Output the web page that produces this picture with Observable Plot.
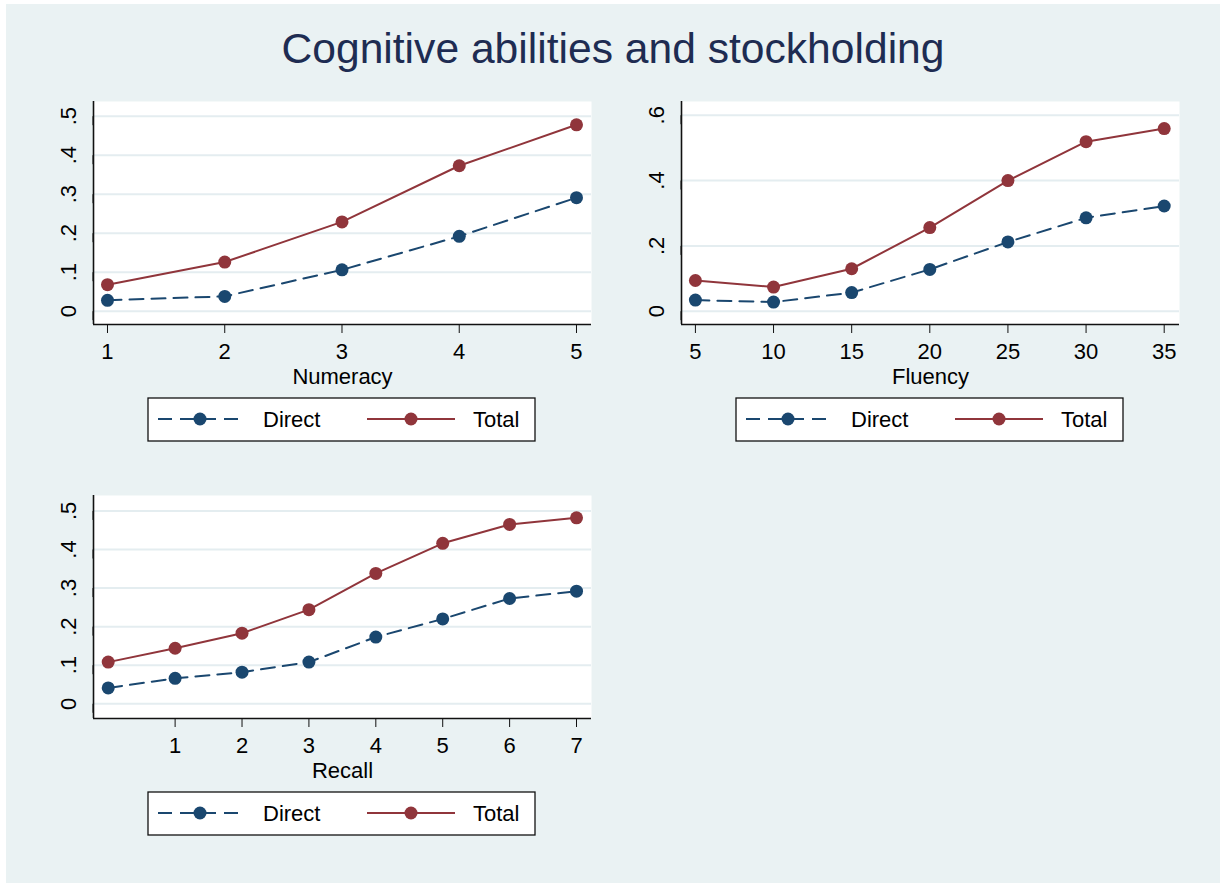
<!DOCTYPE html>
<html>
<head>
<meta charset="utf-8">
<script src="https://cdn.jsdelivr.net/npm/d3@7"></script>
<script src="https://cdn.jsdelivr.net/npm/@observablehq/plot@0.6"></script>
<style>
  html, body { margin: 0; padding: 0; background: #ffffff; }
  #page { position: relative; width: 1220px; height: 883px; overflow: hidden;
          font-family: "Liberation Sans", Arial, Helvetica, sans-serif; }
  #bg { position: absolute; left: 6px; top: 4px; right: 0; bottom: 0; background: #eaf2f3; }
  #title { position: absolute; left: 6px; right: 0; top: 27px; text-align: center;
           font-size: 42.6px; line-height: 42px; color: #1e2c52; white-space: nowrap; }
  .panel { position: absolute; }
  .legend { position: absolute; }
</style>
</head>
<body>
<div id="page">
  <div id="bg"></div>
  <div id="title">Cognitive abilities and stockholding</div>
</div>
<script>
// ---------- data ----------
const seriesNames = ["Direct", "Total"];
const seriesColors = ["#1a476f", "#90353b"];

const numeracyX = [1, 2, 3, 4, 5];
const numeracyDirect = [0.028, 0.038, 0.106, 0.192, 0.291];
const numeracyTotal = [0.068, 0.126, 0.229, 0.373, 0.478];
const numeracyTicks = [1, 2, 3, 4, 5];

const fluencyX = [5, 10, 15, 20, 25, 30, 35];
const fluencyDirect = [0.034, 0.028, 0.057, 0.128, 0.212, 0.286, 0.322];
const fluencyTotal = [0.094, 0.074, 0.130, 0.256, 0.400, 0.519, 0.559];
const fluencyTicks = [5, 10, 15, 20, 25, 30, 35];

const recallX = [0, 1, 2, 3, 4, 5, 6, 7];
const recallDirect = [0.041, 0.066, 0.082, 0.108, 0.173, 0.220, 0.273, 0.292];
const recallTotal = [0.108, 0.144, 0.183, 0.244, 0.338, 0.416, 0.465, 0.482];
const recallTicks = [1, 2, 3, 4, 5, 6, 7];

const yTicksA = [0, 0.1, 0.2, 0.3, 0.4, 0.5];
const yTicksB = [0, 0.2, 0.4, 0.6];

// ---------- helpers ----------
const FONT = '"Liberation Sans", Arial, Helvetica, sans-serif';
const yFmt = d => d === 0 ? "0" : d3.format(".1f")(d).replace(/^0/, "");

function makePanel({xs, direct, total, xDomain, yDomain, xTicks, yTicks, label, left, top}) {
  const rows = [];
  xs.forEach((x, i) => {
    rows.push({x, y: direct[i], s: seriesNames[0]});
    rows.push({x, y: total[i], s: seriesNames[1]});
  });
  const chart = Plot.plot({
    width: 610, height: 300,
    marginLeft: 93, marginRight: 19, marginTop: 11, marginBottom: 66,
    style: {background: "transparent", fontFamily: FONT, fontSize: "22px", color: "#000", overflow: "visible"},
    x: {domain: xDomain},
    y: {domain: yDomain},
    color: {domain: seriesNames, range: seriesColors},
    marks: [
      Plot.frame({fill: "white", stroke: "none"}),
      Plot.gridY(yTicks, {stroke: "#e4edf0", strokeWidth: 2, strokeOpacity: 1}),
      Plot.ruleX([xDomain[0]], {stroke: "#111", strokeWidth: 1.6}),
      Plot.ruleY([yDomain[0]], {stroke: "#111", strokeWidth: 1.4}),
      Plot.axisX({ticks: xTicks, tickSize: 9, tickPadding: 10, tickFormat: d => String(d),
                  label: null, fontSize: 22, stroke: "#111", fill: "#000"}),
      Plot.axisY({ticks: yTicks, tickSize: 9, tickPadding: 9, tickFormat: yFmt, label: null,
                  rotate: -90, textAnchor: "middle", lineAnchor: "bottom", fontSize: 22,
                  stroke: "#111", fill: "#000"}),
      Plot.text([label], {frameAnchor: "bottom", dy: 59, lineAnchor: "bottom", fontSize: 22,
                          text: d => d, fill: "#000"}),
      Plot.line(rows.filter(d => d.s === seriesNames[0]),
                {x: "x", y: "y", stroke: "s", strokeWidth: 2, strokeDasharray: "14,8"}),
      Plot.line(rows.filter(d => d.s === seriesNames[1]),
                {x: "x", y: "y", stroke: "s", strokeWidth: 2}),
      Plot.dot(rows, {x: "x", y: "y", fill: "s", r: 6.5, stroke: "none"})
    ]
  });
  const wrap = document.createElement("div");
  wrap.className = "panel";
  wrap.style.left = left + "px";
  wrap.style.top = top + "px";
  wrap.appendChild(chart);
  document.getElementById("page").appendChild(wrap);

  // legend (below plot), box 387x43 at plot-relative (148, 308)
  const ns = "http://www.w3.org/2000/svg";
  const lg = document.createElementNS(ns, "svg");
  lg.setAttribute("width", 389); lg.setAttribute("height", 45);
  lg.setAttribute("class", "legend");
  lg.style.position = "absolute";
  lg.style.left = (left + 147) + "px";
  lg.style.top = (top + 307) + "px";
  const add = (tag, attrs, txt) => {
    const el = document.createElementNS(ns, tag);
    for (const k in attrs) el.setAttribute(k, attrs[k]);
    if (txt) el.textContent = txt;
    lg.appendChild(el);
    return el;
  };
  add("rect", {x: 1, y: 1, width: 387, height: 43, fill: "white", stroke: "#111", "stroke-width": 1.3});
  const items = [
    {name: seriesNames[0], color: seriesColors[0], x0: 11, x1: 98, mx: 53, tx: 116, dash: "14,8"},
    {name: seriesNames[1], color: seriesColors[1], x0: 220, x1: 308, mx: 264, tx: 326, dash: null}
  ];
  for (const it of items) {
    const ln = add("line", {x1: it.x0, x2: it.x1, y1: 22, y2: 22, stroke: it.color, "stroke-width": 2});
    if (it.dash) ln.setAttribute("stroke-dasharray", it.dash);
    add("circle", {cx: it.mx, cy: 22, r: 6.5, fill: it.color});
    add("text", {x: it.tx, y: 30, "font-size": 22, "font-family": FONT, fill: "#000"}, it.name);
  }
  document.getElementById("page").appendChild(lg);
}

makePanel({xs: numeracyX, direct: numeracyDirect, total: numeracyTotal,
  xDomain: [0.8806, 5.128], yDomain: [-0.0341, 0.5377],
  xTicks: numeracyTicks, yTicks: yTicksA, label: "Numeracy", left: 0, top: 90});

makePanel({xs: fluencyX, direct: fluencyDirect, total: fluencyTotal,
  xDomain: [4.11, 35.979], yDomain: [-0.0407, 0.642],
  xTicks: fluencyTicks, yTicks: yTicksB, label: "Fluency", left: 588, top: 90});

makePanel({xs: recallX, direct: recallDirect, total: recallTotal,
  xDomain: [-0.22, 7.224], yDomain: [-0.0382, 0.540],
  xTicks: recallTicks, yTicks: yTicksA, label: "Recall", left: 0, top: 484});
</script>
</body>
</html>
